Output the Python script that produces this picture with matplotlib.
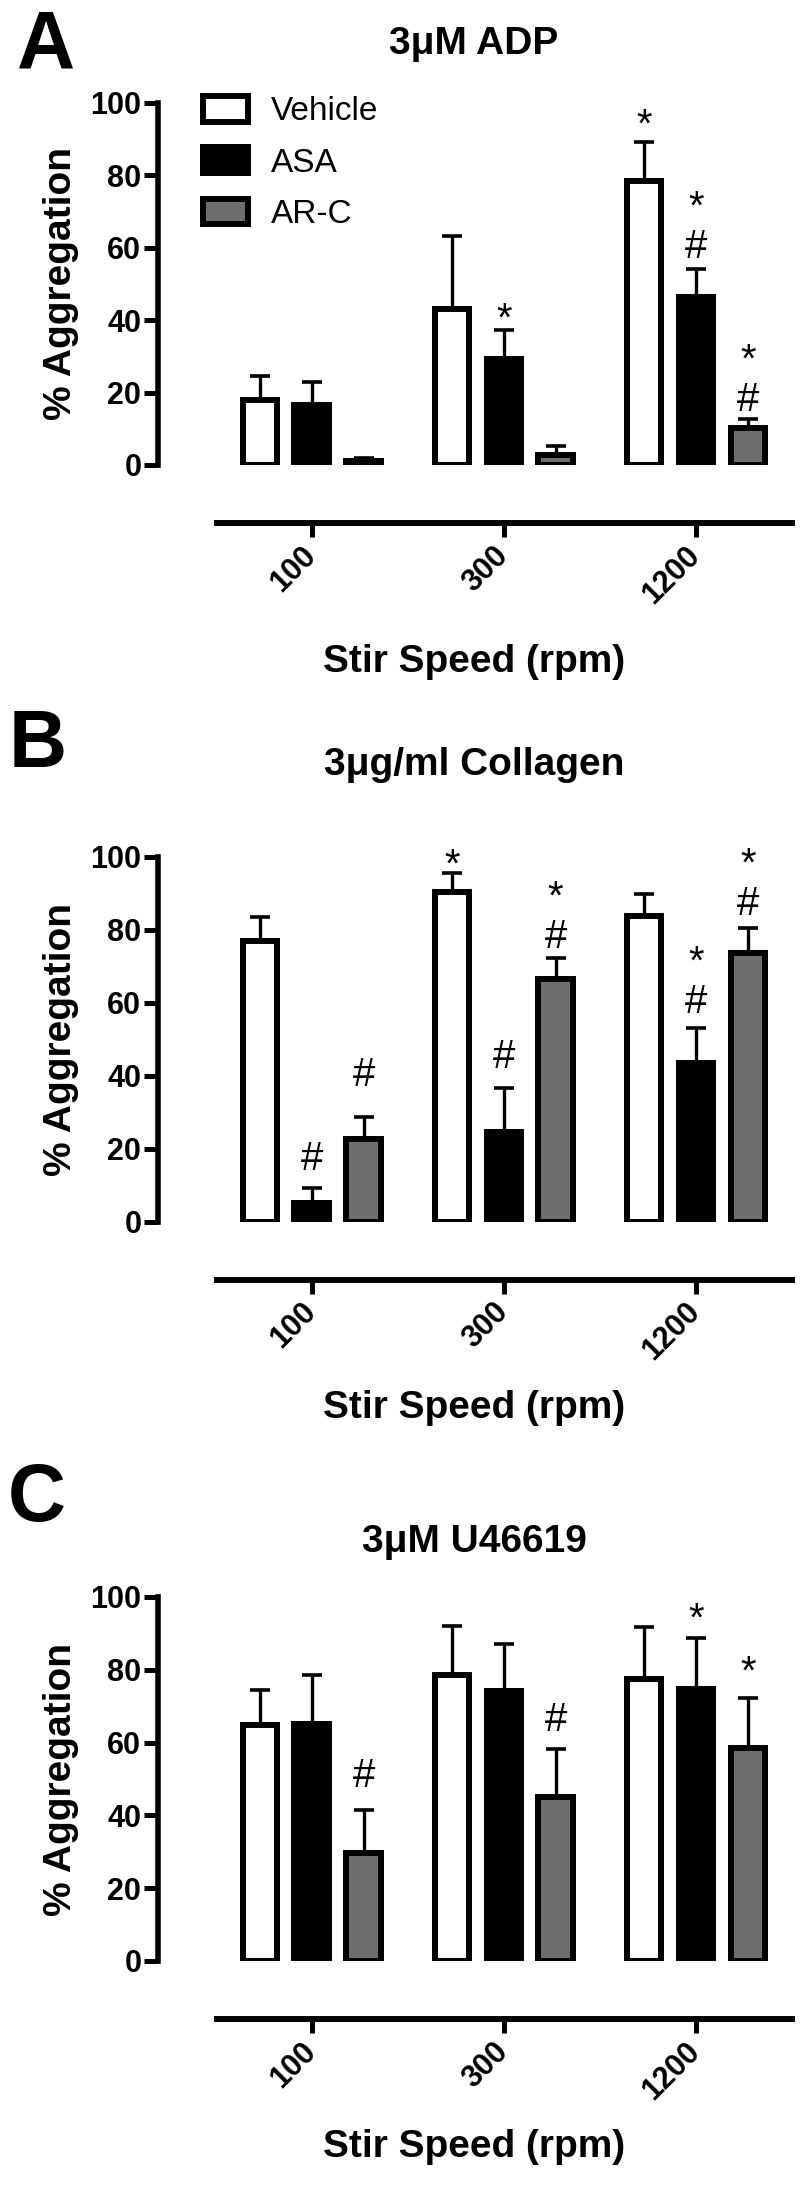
import matplotlib
matplotlib.use('Agg')
import matplotlib.pyplot as plt
import numpy as np

plt.rcParams['font.family'] = ['Liberation Sans', 'DejaVu Sans']

# ---------------- data ----------------
speeds = ['100', '300', '1200']
series = ['Vehicle', 'ASA', 'AR-C']
bar_colors = ['white', 'black', '#6e6e6e']

# Panel A: 3uM ADP
adp_vehicle = [17.9, 43.0, 78.5]
adp_vehicle_sem = [6.6, 20.3, 10.6]
adp_asa = [16.7, 29.2, 46.5]
adp_asa_sem = [6.3, 8.1, 7.7]
adp_arc = [1.2, 2.8, 10.1]
adp_arc_sem = [0.6, 2.5, 2.7]

# Panel B: 3ug/ml Collagen
col_vehicle = [77.0, 90.3, 83.7]
col_vehicle_sem = [6.5, 5.2, 6.1]
col_asa = [5.0, 24.6, 43.4]
col_asa_sem = [4.3, 11.9, 9.6]
col_arc = [22.6, 66.5, 73.6]
col_arc_sem = [6.2, 5.9, 6.8]

# Panel C: 3uM U46619
u4_vehicle = [64.8, 78.7, 77.5]
u4_vehicle_sem = [9.7, 13.3, 14.2]
u4_asa = [65.1, 74.3, 74.7]
u4_asa_sem = [13.4, 12.8, 13.9]
u4_arc = [29.7, 45.0, 58.4]
u4_arc_sem = [11.8, 13.2, 13.8]

# significance marks: (speed index, series index, symbols, y of the top symbol)
adp_marks = [(1, 1, '*', 43.7), (2, 0, '*', 97.2), (2, 1, '*\n#', 74.6), (2, 2, '*\n#', 32.3)]
col_marks = [(0, 1, '#', 18.2), (0, 2, '#', 41.1), (1, 0, '*', 101.2), (1, 1, '#', 46.1),
             (1, 2, '*\n#', 92.3), (2, 1, '*\n#', 74.6), (2, 2, '*\n#', 101.4)]
u4_marks = [(0, 2, '#', 51.7), (1, 2, '#', 67.1), (2, 1, '*', 97.3), (2, 2, '*', 82.7)]

panels = [
    dict(letter='A', title='3\u03bcM ADP',
         means=[adp_vehicle, adp_asa, adp_arc], sems=[adp_vehicle_sem, adp_asa_sem, adp_arc_sem],
         marks=adp_marks, y0=465, y100=103, letter_y=68, letter_x=17, title_y=54,
         xlabel_y=672, legend=True),
    dict(letter='B', title='3\u03bcg/ml Collagen',
         means=[col_vehicle, col_asa, col_arc], sems=[col_vehicle_sem, col_asa_sem, col_arc_sem],
         marks=col_marks, y0=1221.5, y100=857, letter_y=767, letter_x=9, title_y=775,
         xlabel_y=1418, legend=False),
    dict(letter='C', title='3\u03bcM U46619',
         means=[u4_vehicle, u4_asa, u4_arc], sems=[u4_vehicle_sem, u4_asa_sem, u4_arc_sem],
         marks=u4_marks, y0=1961, y100=1597, letter_y=1521, letter_x=8, title_y=1552,
         xlabel_y=2157, legend=False),
]

# ---------------- figure ----------------
W, H = 800, 2187
DPI = 100
fig = plt.figure(figsize=(W / DPI, H / DPI), dpi=DPI, facecolor='white')

AX_L, AX_R = 158, 792
offset = 0.27
width = 0.18
group_x = np.arange(len(speeds))
MARK_FS = 29

for p in panels:
    ax = fig.add_axes([AX_L / W, 1 - p['y0'] / H, (AX_R - AX_L) / W, (p['y0'] - p['y100']) / H])
    ax.set_facecolor('none')
    handles = []
    for j, (m, s) in enumerate(zip(p['means'], p['sems'])):
        xs = group_x + (j - 1) * offset
        b = ax.bar(xs, m, width=width, color=bar_colors[j], edgecolor='black',
                   linewidth=4.3, label=series[j], zorder=3)
        handles.append(b)
        ax.errorbar(xs, m, yerr=[np.zeros(len(m)), s], fmt='none', ecolor='black',
                    elinewidth=2.4, capsize=7, capthick=2.6, zorder=2)
    for gi, si, sym, yv in p['marks']:
        xv = group_x[gi] + (si - 1) * offset
        # anchor at the visual centre of the top symbol
        dy = 4.6 if sym.startswith('*') else 11.2
        ax.annotate(sym, (xv, yv), xytext=(0, dy), textcoords='offset points',
                    ha='center', va='top', fontsize=MARK_FS, linespacing=1.05,
                    annotation_clip=False)

    ax.set_xlim(-0.8, 2.5)
    ax.set_ylim(0, 100)
    ax.set_yticks([0, 20, 40, 60, 80, 100])
    ax.set_xticks(group_x)
    ax.set_xticklabels(speeds)
    for side in ['top', 'right']:
        ax.spines[side].set_visible(False)
    ax.spines['left'].set_linewidth(4)
    ax.spines['left'].set_bounds(0, 100)
    ax.spines['bottom'].set_linewidth(4.3)
    ax.spines['bottom'].set_position(('outward', 42))
    ax.spines['bottom'].set_bounds(-0.495, 2.5)
    ax.tick_params(axis='both', direction='out', length=10, width=3.6, color='black')
    ax.tick_params(axis='y', pad=2, labelsize=22)
    ax.tick_params(axis='x', pad=10, labelsize=22)
    for lab in ax.get_yticklabels():
        lab.set_fontweight('bold')
    for lab in ax.get_xticklabels():
        lab.set_fontweight('bold')
        lab.set_rotation(45)
        lab.set_ha('right')
        lab.set_va('center')
        lab.set_rotation_mode('anchor')

    if p['legend']:
        ax.legend(handles=handles, loc='upper left',
                  bbox_to_anchor=(203 / W, 1 - 96 / H), bbox_transform=fig.transFigure,
                  frameon=False, fontsize=24, handlelength=1.35, handleheight=0.8,
                  labelspacing=0.6, handletextpad=0.7, borderpad=0, borderaxespad=0)

    ymid = (p['y0'] + p['y100']) / 2
    fig.text(61 / W, 1 - ymid / H, '% Aggregation', rotation=90, ha='center', va='center',
             fontsize=28, fontweight='bold')
    fig.text(474 / W, 1 - p['title_y'] / H, p['title'], ha='center', va='baseline',
             fontsize=28, fontweight='bold')
    fig.text(474 / W, 1 - p['xlabel_y'] / H, 'Stir Speed (rpm)', ha='center', va='baseline',
             fontsize=28, fontweight='bold')
    fig.text(p['letter_x'] / W, 1 - p['letter_y'] / H, p['letter'], ha='left', va='baseline',
             fontsize=58, fontweight='bold')

fig.savefig('out.png', dpi=DPI, facecolor='white')
